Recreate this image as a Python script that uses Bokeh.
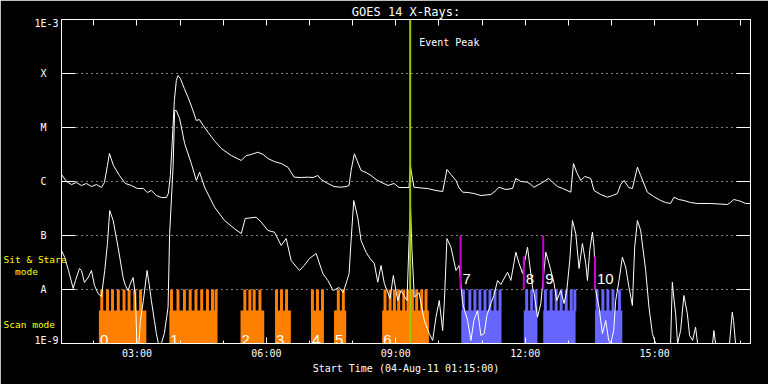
from bokeh.plotting import figure
from bokeh.models import LinearAxis, FixedTicker, Label, Range1d, Title
from bokeh.core.properties import value
from bokeh.embed import file_html
from bokeh.resources import INLINE

FONT = "DejaVu Sans Mono"

def hm(s):
    h, m = s.split(":")
    return int(h) + int(m) / 60.0

# ---------------- data ----------------
# GOES long channel (1-8 A), time in hours of 04-Aug-11, log10 flux
long_t = [1.250,1.366,1.481,1.597,1.713,1.829,1.944,2.060,2.176,2.245,2.315,2.361,2.454,2.593,2.731,2.870,3.009,3.148,3.241,3.333,
          3.449,3.565,3.681,3.727,3.773,3.819,3.866,3.912,3.951,4.005,4.097,4.183,4.282,4.375,4.444,4.537,4.646,4.792,4.954,5.185,
          5.417,5.532,5.648,5.803,5.926,6.035,6.181,6.343,6.498,6.574,6.644,6.806,6.961,7.083,7.192,7.269,7.424,7.569,7.731,7.847,
          7.917,7.963,8.039,8.102,8.194,8.310,8.426,8.542,8.657,8.819,8.958,9.074,9.236,9.306,9.336,9.375,9.421,9.583,9.738,9.931,
          10.086,10.185,10.278,10.394,10.463,10.549,10.671,10.810,10.972,11.204,11.319,11.389,11.551,11.706,11.782,11.898,12.053,12.130,12.199,12.361,
          12.546,12.639,12.748,12.870,13.056,13.118,13.194,13.287,13.380,13.519,13.595,13.750,13.905,14.028,14.137,14.213,14.290,14.398,14.484,14.600,
          14.676,14.831,14.977,15.139,15.255,15.370,15.447,15.556,15.678,15.833,15.988,16.296,16.683,16.759,16.836,16.921,16.991,17.106,17.222]
long_log = [-5.870,-6.000,-6.056,-6.019,-6.074,-6.037,-6.093,-6.056,-6.111,-6.019,-5.704,-5.481,-5.704,-5.889,-6.037,-6.074,-6.130,-6.130,-6.204,-6.167,
            -6.259,-6.296,-6.296,-6.222,-5.889,-5.241,-4.500,-4.130,-4.037,-4.093,-4.278,-4.439,-4.648,-4.870,-4.852,-4.963,-5.087,-5.241,-5.389,-5.519,
            -5.611,-5.519,-5.500,-5.457,-5.500,-5.574,-5.630,-5.667,-5.735,-5.833,-5.920,-5.926,-5.920,-5.926,-5.889,-5.963,-6.037,-6.093,-6.106,-6.093,
            -6.074,-5.796,-5.487,-5.611,-5.796,-5.833,-5.889,-5.963,-6.013,-6.074,-6.037,-6.111,-6.111,-6.111,-5.704,-5.889,-6.106,-6.120,-6.130,-6.167,
            -6.185,-5.778,-5.870,-5.981,-6.111,-6.198,-6.204,-6.222,-6.259,-6.241,-6.167,-6.106,-6.148,-6.130,-5.944,-6.000,-6.013,-6.056,-6.106,-6.037,
            -5.944,-6.019,-6.093,-6.130,-6.198,-5.667,-5.833,-5.981,-5.907,-5.944,-6.167,-6.241,-6.291,-6.259,-6.222,-6.056,-5.981,-6.111,-6.130,-5.735,
            -5.889,-6.198,-6.278,-6.352,-6.389,-6.407,-6.291,-6.333,-6.352,-6.389,-6.407,-6.407,-6.426,-6.389,-6.333,-6.352,-6.365,-6.407,-6.407]

# GOES short channel (0.5-4 A)
short_t = [1.250,1.326,1.412,1.521,1.574,1.667,1.713,1.782,1.868,1.944,2.014,2.100,2.176,2.252,2.315,2.368,2.447,2.563,2.678,2.731,
           2.794,2.847,2.910,2.963,2.998,3.044,3.079,3.148,3.234,3.287,3.333,3.403,3.449,3.495,3.565,3.634,3.720,3.757,3.836,3.873,
           3.912,3.988,4.104,4.259,4.375,4.451,4.567,4.799,5.030,5.262,5.417,5.509,5.764,5.880,6.035,6.188,6.343,6.458,6.574,6.766,
           6.875,6.998,7.153,7.308,7.424,7.546,7.685,7.778,7.870,7.917,7.963,8.025,8.118,8.194,8.310,8.403,8.502,8.581,8.657,8.734,
           8.796,8.866,8.942,9.044,9.120,9.190,9.259,9.313,9.340,9.375,9.428,9.537,9.660,9.775,9.854,9.931,10.007,10.086,10.127,10.185,
           10.278,10.394,10.470,10.549,10.664,10.741,10.810,10.896,10.972,11.049,11.111,11.204,11.273,11.359,11.435,11.590,11.667,11.782,11.859,11.938,
           11.991,12.053,12.169,12.206,12.285,12.361,12.477,12.553,12.669,12.731,12.824,12.900,12.963,13.032,13.095,13.171,13.248,13.326,13.403,13.442,
           13.495,13.558,13.595,13.634,13.711,13.789,13.866,13.935,13.981,14.051,14.097,14.174,14.252,14.329,14.405,14.484,14.537,14.600,14.676,14.792,
           14.868,14.947,15.023,15.370,15.410,15.451,15.486,15.532,15.602,15.678,15.757,15.810,15.880,15.949,15.995,16.343,16.373,16.412,16.736,16.799,
           16.829,16.875,17.222]
short_log = [-7.278,-7.407,-7.648,-7.981,-7.833,-7.611,-7.648,-7.870,-7.778,-7.648,-7.926,-8.074,-8.130,-7.648,-7.148,-6.537,-6.722,-7.222,-7.778,-7.926,
             -8.019,-7.889,-7.778,-8.111,-9.0,-9.0,-8.574,-8.204,-7.648,-7.926,-8.204,-8.574,-8.815,-9.0,-9.0,-8.815,-8.333,-6.963,-5.741,-4.685,
             -4.685,-4.833,-5.296,-5.667,-5.981,-5.828,-6.106,-6.476,-6.722,-6.876,-6.963,-6.685,-6.661,-6.754,-6.907,-6.939,-7.185,-7.056,-7.463,-7.648,
             -7.556,-7.426,-7.333,-7.704,-7.833,-8.019,-7.963,-8.056,-7.833,-7.704,-7.093,-6.352,-6.667,-7.093,-7.309,-7.426,-7.519,-7.865,-7.556,-7.889,
             -8.019,-8.167,-7.741,-8.204,-8.019,-8.111,-8.204,-6.963,-6.444,-7.278,-8.143,-8.056,-8.574,-8.815,-8.944,-8.513,-8.204,-8.759,-8.204,-7.056,
             -7.217,-7.648,-7.556,-8.259,-8.574,-8.944,-8.574,-8.389,-8.852,-8.815,-8.481,-8.259,-8.111,-7.833,-7.907,-7.680,-7.833,-7.309,-7.519,-7.704,
             -7.463,-7.217,-7.957,-8.074,-8.513,-8.259,-7.309,-7.519,-7.889,-8.204,-8.019,-8.259,-8.019,-7.463,-6.722,-6.963,-7.611,-7.148,-7.519,-7.833,
             -7.278,-6.939,-7.217,-8.019,-8.328,-8.815,-8.574,-8.944,-9.0,-8.759,-8.204,-7.833,-7.402,-7.587,-7.957,-8.296,-7.217,-6.722,-6.907,-7.648,
             -8.328,-8.815,-9.0,-9.0,-7.865,-8.204,-8.444,-9.0,-8.759,-8.111,-8.444,-8.852,-8.944,-8.698,-9.0,-9.0,-8.759,-9.0,-9.0,-8.420,
             -8.574,-9.0,-9.0]
assert len(long_t) == len(long_log)
assert len(short_t) == len(short_log)

# Observation blocks (scan mode), 0-6 orange, 7-10 blue
block_label = ["0", "1", "2", "3", "4", "5", "6", "7", "8", "9", "10"]
block_start = ["02:07", "03:45", "05:24", "06:12", "07:02", "07:34", "08:41", "10:31", "11:58", "12:25", "13:37"]
block_end   = ["03:13", "04:52", "05:57", "06:34", "07:20", "07:51", "09:46", "11:27", "12:17", "13:10", "14:15"]
block_group = ["A", "A", "A", "A", "A", "A", "A", "B", "B", "B", "B"]
block_teeth = [
    ["02:11", "02:19", "02:26", "02:34", "02:42", "02:49", "02:57", "03:05"],
    ["03:48", "03:57", "04:06", "04:14", "04:22", "04:30", "04:38", "04:45", "04:50"],
    ["05:30", "05:37", "05:43", "05:51"],
    ["06:14", "06:21", "06:28"],
    ["07:04", "07:11", "07:18"],
    ["07:40", "07:47"],
    ["08:45", "08:52", "08:58", "09:04", "09:11", "09:17", "09:23", "09:29", "09:36", "09:42"],
    ["10:34", "10:43", "10:50", "10:57", "11:04", "11:11", "11:18", "11:25"],
    ["12:02", "12:09", "12:15"],
    ["12:28", "12:36", "12:43", "12:50", "12:57", "13:04", "13:09"],
    ["13:40", "13:48", "13:55", "14:02", "14:11"],
]
# Sit & stare markers
marker_label = ["7", "8", "9", "10"]
marker_time = ["10:30", "11:58", "12:25", "13:37"]
marker_top = [-7.0, -7.39, -7.0, -7.39]

event_peak = "09:20"

ytick_vals = [-9, -8, -7, -6, -5, -4, -3]
ytick_text = ["1E-9", "A", "B", "C", "M", "X", "1E-3"]
xtick_hours = [3, 6, 9, 12, 15]
xtick_text = ["03:00", "06:00", "09:00", "12:00", "15:00"]
xminor_hours = [2, 3, 4, 5, 6, 7, 8, 9, 10, 11, 12, 13, 14, 15, 16, 17]
mode_text = ["Sit & Stare", "mode", "Scan mode"]
mode_pos = [-7.444, -7.667, -8.648]

# ---------------- styling ----------------
COL = {"A": "#ff8000", "B": "#6666ff"}
SCAN_TOP = -8.389
TOOTH_W = 0.069
X0, X1 = 1.25, 17.222
NB = "\u00a0"

p = figure(width=768, height=384, output_backend="svg", toolbar_location=None, title=None,
           x_range=Range1d(X0, X1), y_range=Range1d(-9, -3),
           min_border_left=60, min_border_right=18, min_border_top=19, min_border_bottom=41,
           background_fill_color="black", border_fill_color="black",
           outline_line_color="white")

# left axis: inward ticks at decades, class labels
lab_pos = [(-8.944 if v == -9 else (-3.08 if v == -3 else v)) for v in ytick_vals]
lab_txt = [s if len(s) > 1 else s + NB + NB for s in ytick_text]
ya = p.yaxis[0]
ya.ticker = FixedTicker(ticks=lab_pos, minor_ticks=ytick_vals)
ya.major_label_overrides = {pos: s for pos, s in zip(lab_pos, lab_txt)}
ya.major_tick_in = 0
ya.major_tick_out = 0
ya.major_tick_line_color = None
ya.minor_tick_in = 14
ya.minor_tick_out = 0
ya.minor_tick_line_color = "white"
ya.axis_line_color = "white"
ya.major_label_text_color = "white"
ya.major_label_text_font = FONT
ya.major_label_text_font_size = "10px"
ya.major_label_standoff = 3

# second (outer) left axis carrying the yellow mode texts, pulled back toward the frame
mode_pad = [0, 5, 2]
ym = LinearAxis(ticker=FixedTicker(ticks=mode_pos, minor_ticks=[]))
ym.major_label_overrides = {pos: s + NB * n for pos, s, n in zip(mode_pos, mode_text, mode_pad)}
ym.axis_line_color = None
ym.major_tick_line_color = None
ym.minor_tick_line_color = None
ym.major_tick_in = 0
ym.major_tick_out = 0
ym.major_label_text_color = "#ffff00"
ym.major_label_text_font = FONT
ym.major_label_text_font_size = "9.5px"
ym.major_label_standoff = -35
p.add_layout(ym, "left")

# bottom axis
xa = p.xaxis[0]
xa.ticker = FixedTicker(ticks=xtick_hours, minor_ticks=xminor_hours)
xa.major_label_overrides = {h: s for h, s in zip(xtick_hours, xtick_text)}
xa.major_tick_in = 6
xa.major_tick_out = 0
xa.minor_tick_in = 3
xa.minor_tick_out = 0
xa.axis_line_color = "white"
xa.major_tick_line_color = "white"
xa.minor_tick_line_color = "white"
xa.major_label_text_color = "white"
xa.major_label_text_font = FONT
xa.major_label_text_font_size = "10px"
xa.major_label_standoff = 4
xa.axis_label = "Start Time (04-Aug-11 01:15:00)"
xa.axis_label_text_color = "white"
xa.axis_label_text_font = FONT
xa.axis_label_text_font_size = "10px"
xa.axis_label_text_font_style = "normal"
xa.axis_label_standoff = 1

# top axis (ticks only)
ta = LinearAxis(ticker=FixedTicker(ticks=[], minor_ticks=xminor_hours))
ta.minor_tick_in = 6
ta.minor_tick_out = 0
ta.minor_tick_line_color = "white"
ta.axis_line_color = "white"
ta.major_label_standoff = 0
p.add_layout(ta, "above")

# title (outside the top axis)
p.add_layout(Title(text="GOES 14 X-Rays:", align="center", text_color="white", text_font=FONT,
                   text_font_size="12px", text_font_style="normal", standoff=0, offset=0,
                   vertical_align="middle"), "above")

# right axis (ticks only)
ra = LinearAxis(ticker=FixedTicker(ticks=[], minor_ticks=ytick_vals))
ra.minor_tick_in = 14
ra.minor_tick_out = 0
ra.minor_tick_line_color = "white"
ra.axis_line_color = "white"
ra.major_label_standoff = 0
p.add_layout(ra, "right")

p.xgrid.visible = False
p.ygrid.ticker = FixedTicker(ticks=[-8, -7, -6, -5, -4])
p.ygrid.grid_line_color = "white"
p.ygrid.grid_line_dash = "1 4"
p.ygrid.grid_line_width = 1

# scan-mode blocks
bl, br, bc = [], [], []
tl, tr, tc = [], [], []
for s, e, g, teeth in zip(block_start, block_end, block_group, block_teeth):
    bl.append(hm(s)); br.append(hm(e)); bc.append(COL[g])
    for c in teeth:
        tl.append(hm(c) - TOOTH_W / 2); tr.append(hm(c) + TOOTH_W / 2); tc.append(COL[g])
p.quad(left=bl, right=br, bottom=-9, top=SCAN_TOP, fill_color=bc, line_color=None)
p.quad(left=tl, right=tr, bottom=SCAN_TOP - 0.01, top=-8.0, fill_color=tc, line_color=None)

# light curves
p.line(long_t, long_log, line_color="white", line_width=1)
p.line(short_t, short_log, line_color="white", line_width=1)

# sit & stare markers
mt = [hm(t) for t in marker_time]
p.segment(x0=mt, y0=[-8.0] * len(mt), x1=mt, y1=marker_top, line_color="#cc00cc", line_width=2)
p.text(x=mt, y=[-7.80] * len(mt), text=marker_label, text_color="white",
       text_font=value("Liberation Sans"), text_font_size="15px",
       text_align="left", text_baseline="alphabetic", x_offset=2)

# block labels
p.text(x=[hm(s) for s in block_start[:7]], y=[-8.93] * 7, text=block_label[:7], text_color="white",
       text_font=value("Liberation Sans"), text_font_size="15px",
       text_align="left", text_baseline="alphabetic", x_offset=1)

# event peak
ep = hm(event_peak)
p.segment(x0=[ep], y0=[-9], x1=[ep], y1=[-3], line_color="#99cc00", line_width=2)
p.add_layout(Label(x=ep, y=-3.435, x_offset=9, text="Event Peak", text_color="white",
                   text_font=FONT, text_font_size="10px", text_baseline="middle"))

html = file_html(p, INLINE)
html = html.replace("<body>", '<body style="background-color:#000000;">', 1)
open("out.html", "w").write(html)
